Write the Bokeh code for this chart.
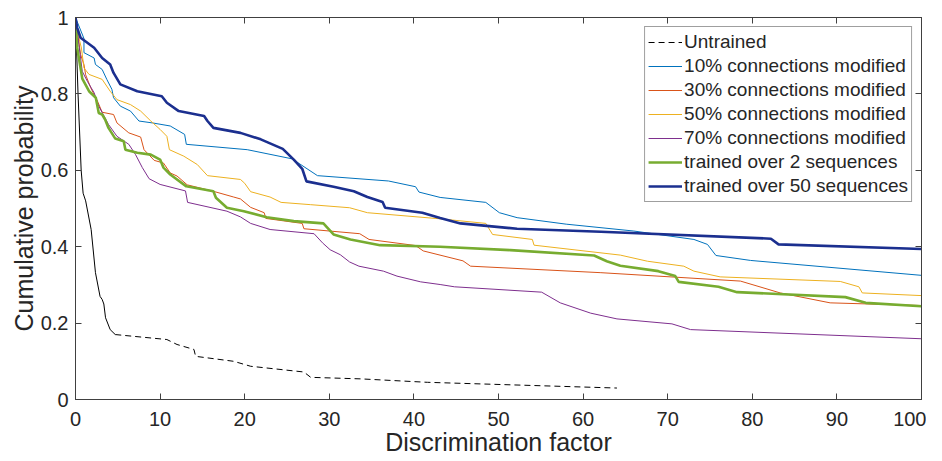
from bokeh.plotting import figure
from bokeh.models import Range1d, LinearAxis, FixedTicker, Legend, LegendItem
from bokeh.embed import file_html
from bokeh.resources import INLINE

# ---- data ----
untrained_x = [0, 0.3, 0.67, 0.9, 1.2, 1.85, 2.36, 2.9, 3.15, 3.35, 3.55, 4.1, 4.7,
               10.8, 12.0, 14.0, 14.2, 18.7, 20.7, 27.0, 27.8, 33.7, 41.6, 64.0]
untrained_y = [1, 0.80, 0.60, 0.54, 0.52, 0.445, 0.332, 0.27, 0.262, 0.25, 0.214, 0.183, 0.170,
               0.157, 0.144, 0.131, 0.113, 0.100, 0.087, 0.072, 0.058, 0.054, 0.045, 0.030]
untrained_split = 12  # steep head drawn solid, tail dashed

m10_x = [0, 1.0, 1.0, 2.2, 2.36, 3.15, 3.7, 4.3, 4.5, 5.3, 6.5, 7.5, 9.1, 11.2, 12.9, 13.1,
         20.3, 25.6, 28.6, 37.0, 40.2, 40.6, 43.1, 48.5, 50.1, 52.2, 58.0, 66.0, 73.1, 74.7,
         75.7, 79.8, 100]
m10_y = [1, 0.945, 0.908, 0.894, 0.877, 0.864, 0.838, 0.812, 0.79, 0.768, 0.755, 0.729, 0.724,
         0.716, 0.694, 0.668, 0.654, 0.630, 0.586, 0.572, 0.557, 0.543, 0.529, 0.516, 0.489,
         0.476, 0.459, 0.441, 0.419, 0.406, 0.377, 0.364, 0.325]

m30_x = [0, 0.6, 1.0, 1.2, 1.8, 2.6, 3.15, 4.5, 4.9, 6.3, 7.7, 8.1, 9.3, 10.4, 11.2, 12.0,
         13.2, 16.3, 18.7, 19.5, 20.7, 22.3, 22.5, 26.8, 27.0, 33.6, 34.7, 40.2, 41.1, 45.8,
         46.7, 62.1, 78.6, 83.3, 89.2, 100]
m30_y = [1, 0.903, 0.877, 0.85, 0.816, 0.781, 0.752, 0.746, 0.724, 0.698, 0.687, 0.654, 0.626,
         0.619, 0.593, 0.585, 0.562, 0.545, 0.530, 0.525, 0.503, 0.489, 0.474, 0.461, 0.447,
         0.434, 0.419, 0.403, 0.389, 0.363, 0.349, 0.332, 0.310, 0.279, 0.253, 0.246]

m50_x = [0, 0.4, 0.7, 1.0, 1.6, 3.15, 4.1, 4.9, 6.5, 7.7, 8.9, 10.0, 10.8, 11.1, 12.8, 14.4,
         15.6, 19.5, 20.0, 20.7, 23.0, 24.3, 27.8, 32.4, 34.5, 43.1, 48.5, 49.3, 54.0, 54.2,
         64.4, 67.6, 71.9, 73.1, 76.2, 90.4, 92.6, 93.0, 100]
m50_y = [1, 0.947, 0.92, 0.868, 0.851, 0.838, 0.807, 0.785, 0.772, 0.755, 0.729, 0.707, 0.689,
         0.654, 0.637, 0.615, 0.586, 0.576, 0.566, 0.544, 0.530, 0.516, 0.510, 0.502, 0.489,
         0.473, 0.461, 0.432, 0.419, 0.404, 0.378, 0.362, 0.349, 0.336, 0.321, 0.309, 0.295,
         0.279, 0.272]

m70_x = [0, 0.4, 0.8, 1.4, 2.2, 2.75, 3.9, 4.9, 6.3, 7.1, 7.9, 8.7, 10.0, 13.0, 13.25, 17.9,
         19.5, 20.7, 23.0, 28.2, 29.2, 30.1, 31.3, 32.4, 33.5, 36.4, 38.0, 40.8, 43.1, 44.8,
         55.1, 57.3, 60.9, 64.0, 70.5, 72.7, 100]
m70_y = [1, 0.929, 0.859, 0.833, 0.803, 0.768, 0.72, 0.689, 0.668, 0.641, 0.607, 0.578, 0.563,
         0.546, 0.516, 0.493, 0.478, 0.461, 0.445, 0.434, 0.410, 0.392, 0.379, 0.360, 0.349,
         0.336, 0.323, 0.308, 0.301, 0.295, 0.281, 0.253, 0.226, 0.211, 0.198, 0.183, 0.159]

t2_x = [0, 0.2, 0.8, 1.6, 2.4, 2.75, 3.15, 3.5, 3.9, 4.7, 5.7, 5.9, 7.3, 8.9, 10.0, 10.4,
        11.2, 13.1, 16.3, 16.6, 17.9, 19.9, 22.6, 25.8, 29.3, 30.5, 32.5, 36.0, 43.1, 51.4,
        61.3, 62.8, 64.4, 68.9, 70.9, 71.3, 76.0, 78.2, 91.0, 93.4, 100]
t2_y = [1, 0.921, 0.840, 0.807, 0.79, 0.75, 0.746, 0.733, 0.711, 0.683, 0.676, 0.654, 0.646,
        0.641, 0.628, 0.607, 0.589, 0.558, 0.545, 0.528, 0.502, 0.493, 0.477, 0.467, 0.461,
        0.432, 0.419, 0.404, 0.400, 0.391, 0.377, 0.362, 0.350, 0.336, 0.323, 0.308, 0.295,
        0.281, 0.268, 0.253, 0.244]

t50_x = [0, 0.2, 0.6, 2.2, 3.15, 4.1, 4.5, 5.3, 7.3, 10.2, 10.8, 12.2, 15.2, 15.6, 16.3, 19.5,
         21.9, 24.5, 25.8, 26.8, 27.3, 30.5, 32.9, 34.5, 36.3, 36.6, 41.0, 43.1, 45.5, 52.2,
         62.1, 82.2, 83.1, 100]
t50_y = [1, 0.973, 0.947, 0.921, 0.894, 0.877, 0.855, 0.825, 0.807, 0.794, 0.777, 0.755, 0.742,
         0.729, 0.711, 0.698, 0.681, 0.656, 0.628, 0.604, 0.571, 0.557, 0.545, 0.530, 0.517,
         0.502, 0.489, 0.475, 0.461, 0.447, 0.439, 0.421, 0.406, 0.394]

labels = ["Untrained", "10% connections modified", "30% connections modified",
          "50% connections modified", "70% connections modified",
          "trained over 2 sequences", "trained over 50 sequences"]
x_ticks = [0, 10, 20, 30, 40, 50, 60, 70, 80, 90, 100]
y_ticks = [0, 0.2, 0.4, 0.6, 0.8, 1.0]
y_tick_labels = ["0", "0.2", "0.4", "0.6", "0.8", "1"]

FONT = "Liberation Sans"
TXT = "#262626"
AX = "#404040"

p = figure(frame_width=846, frame_height=382, output_backend="svg", toolbar_location=None,
           x_range=Range1d(0, 100), y_range=Range1d(0, 1),
           min_border_left=75, min_border_top=17, min_border_right=5, min_border_bottom=40)
p.xgrid.visible = False
p.ygrid.visible = False
p.outline_line_color = AX
p.background_fill_color = "white"
p.border_fill_color = "white"

for ax in (p.xaxis[0], p.yaxis[0]):
    ax.major_tick_in = 6
    ax.major_tick_out = 0
    ax.minor_tick_in = 0
    ax.minor_tick_out = 0
    ax.axis_line_color = AX
    ax.major_tick_line_color = AX
    ax.major_label_text_font = FONT
    ax.major_label_text_font_size = "20px"
    ax.major_label_text_color = TXT
    ax.axis_label_text_font = FONT
    ax.axis_label_text_font_size = "25px"
    ax.axis_label_text_font_style = "normal"
    ax.axis_label_text_color = TXT

p.xaxis[0].ticker = FixedTicker(ticks=x_ticks)
p.yaxis[0].ticker = FixedTicker(ticks=y_ticks)
p.yaxis[0].major_label_overrides = {t: s for t, s in zip(y_ticks, y_tick_labels)}
p.xaxis[0].major_label_standoff = 12
p.yaxis[0].major_label_standoff = 7
p.xaxis[0].axis_label = "Discrimination factor"
p.yaxis[0].axis_label = "Cumulative probability"
p.xaxis[0].axis_label_standoff = -1
p.yaxis[0].axis_label_standoff = 0

# box ticks on top and right (MATLAB style), no labels
top = LinearAxis(ticker=FixedTicker(ticks=x_ticks), major_label_text_font_size="0px",
                 major_label_text_color=None,
                 major_tick_in=6, major_tick_out=0, minor_tick_in=0, minor_tick_out=0,
                 major_label_standoff=0, axis_line_color=AX, major_tick_line_color=AX)
right = LinearAxis(ticker=FixedTicker(ticks=y_ticks), major_label_text_font_size="0px",
                   major_label_text_color=None,
                   major_tick_in=6, major_tick_out=0, minor_tick_in=0, minor_tick_out=0,
                   major_label_standoff=0, axis_line_color=AX, major_tick_line_color=AX)
p.add_layout(top, "above")
p.add_layout(right, "right")

r_u_head = p.line(untrained_x[:untrained_split + 1], untrained_y[:untrained_split + 1],
                  line_color="black", line_width=1)
r_u = p.line(untrained_x[untrained_split:], untrained_y[untrained_split:],
             line_color="black", line_width=1, line_dash="6 4")
r10 = p.line(m10_x, m10_y, line_color="#0072BD", line_width=1)
r30 = p.line(m30_x, m30_y, line_color="#D95319", line_width=1)
r50 = p.line(m50_x, m50_y, line_color="#EDB120", line_width=1)
r70 = p.line(m70_x, m70_y, line_color="#7E2F8E", line_width=1)
rt2 = p.line(t2_x, t2_y, line_color="#77AC30", line_width=2.6)
rt50 = p.line(t50_x, t50_y, line_color="#1B2F8F", line_width=2.6)

legend = Legend(items=[LegendItem(label=l, renderers=[r]) for l, r in
                       zip(labels, [r_u, r10, r30, r50, r70, rt2, rt50])],
                location="top_right", margin=9, padding=3, spacing=0,
                label_height=24, glyph_height=24, glyph_width=34, label_standoff=2,
                label_text_font=FONT, label_text_font_size="19px", label_text_color=TXT,
                border_line_color=AX, border_line_width=1, background_fill_alpha=1)
p.add_layout(legend, "center")

open("out.html", "w").write(file_html(p, INLINE))
